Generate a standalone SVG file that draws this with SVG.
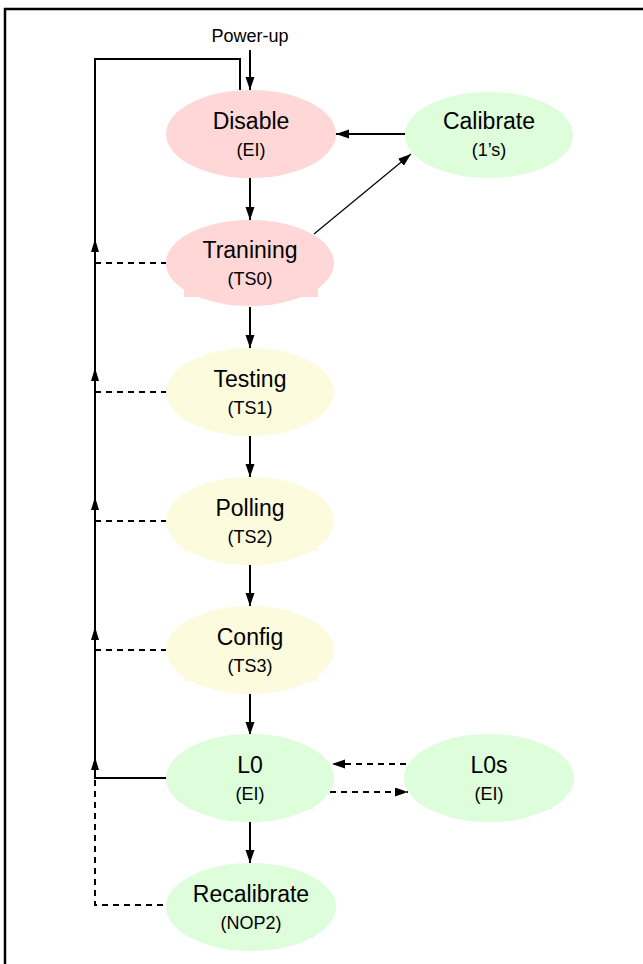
<svg xmlns="http://www.w3.org/2000/svg" width="643" height="964" viewBox="0 0 643 964">
<style>
.main{font-family:"Liberation Sans",Arial,sans-serif;font-size:23px;fill:#000;text-anchor:middle}
.sub{font-family:"Liberation Sans",Arial,sans-serif;font-size:18px;fill:#000;text-anchor:middle}
.pink{fill:#FFD7D7}
.yellow{fill:#FCFBDD}
.green{fill:#DDFDDB}
.ln{stroke:#000;stroke-width:2;fill:none}
.dash{stroke:#000;stroke-width:2;fill:none;stroke-dasharray:6,5}
.thin{stroke:#000;stroke-width:1.2;fill:none}
</style>
<defs>
<marker id="ah" markerUnits="userSpaceOnUse" markerWidth="14" markerHeight="10" refX="13" refY="4.5" orient="auto">
<path d="M0,0 L13,4.5 L0,9 z" fill="#000"/>
</marker>
<path id="up" d="M0,0 L-4,13 L4,13 z" fill="#000"/>
</defs>
<rect x="5" y="9" width="700" height="1000" fill="none" stroke="#000" stroke-width="2.5"/>

<g id="connectors">
<text x="250" y="42" font-family="Liberation Sans, Arial, sans-serif" font-size="18" text-anchor="middle">Power-up</text>
<line x1="250" y1="50" x2="250" y2="90" class="ln" marker-end="url(#ah)"/>
<polyline points="240,90 240,59 95,59 95,778 166,778" class="ln"/>
<use href="#up" x="95" y="239"/>
<use href="#up" x="95" y="368"/>
<use href="#up" x="95" y="497"/>
<use href="#up" x="95" y="627"/>
<use href="#up" x="95" y="757"/>
<line x1="95" y1="263" x2="166" y2="263" class="dash"/>
<line x1="95" y1="392" x2="166" y2="392" class="dash"/>
<line x1="95" y1="521" x2="166" y2="521" class="dash"/>
<line x1="95" y1="650" x2="166" y2="650" class="dash"/>
<polyline points="95,780 95,905 166,905" class="dash"/>
<line x1="406" y1="134" x2="336" y2="134" class="ln" marker-end="url(#ah)"/>
<line x1="314" y1="234" x2="411" y2="154" class="thin" marker-end="url(#ah)"/>
<line x1="250" y1="178" x2="250" y2="220" class="ln" marker-end="url(#ah)"/>
<line x1="250" y1="307" x2="250" y2="348" class="ln" marker-end="url(#ah)"/>
<line x1="250" y1="436" x2="250" y2="477" class="ln" marker-end="url(#ah)"/>
<line x1="250" y1="565" x2="250" y2="606" class="ln" marker-end="url(#ah)"/>
<line x1="250" y1="694" x2="250" y2="735" class="ln" marker-end="url(#ah)"/>
<line x1="250" y1="822" x2="250" y2="863" class="ln" marker-end="url(#ah)"/>
<line x1="406" y1="764" x2="332" y2="764" class="dash" marker-end="url(#ah)"/>
<line x1="330" y1="792" x2="408" y2="792" class="dash" marker-end="url(#ah)"/>
</g>

<g id="disable">
<ellipse cx="251" cy="134" rx="85" ry="44" class="pink"/>
<text x="251" y="129" class="main">Disable</text>
<text x="251" y="156" class="sub">(EI)</text>
</g>
<g id="calibrate">
<ellipse cx="489" cy="135" rx="84" ry="43" class="green"/>
<text x="489" y="129" class="main">Calibrate</text>
<text x="489" y="156" class="sub">(1’s)</text>
</g>
<g id="tranining">
<ellipse cx="250" cy="263" rx="84" ry="43" class="pink"/>
<rect x="184" y="283" width="134" height="14" class="pink"/>
<text x="250" y="258" class="main">Tranining</text>
<text x="250" y="285" class="sub">(TS0)</text>
</g>
<g id="testing">
<ellipse cx="250" cy="392" rx="84" ry="44" class="yellow"/>
<text x="250" y="387" class="main">Testing</text>
<text x="250" y="414" class="sub">(TS1)</text>
</g>
<g id="polling">
<ellipse cx="250" cy="521" rx="84" ry="44" class="yellow"/>
<rect x="184" y="541" width="134" height="10" class="yellow"/>
<text x="250" y="516" class="main">Polling</text>
<text x="250" y="543" class="sub">(TS2)</text>
</g>
<g id="config">
<ellipse cx="250" cy="650" rx="84" ry="44" class="yellow"/>
<rect x="184" y="670" width="134" height="11" class="yellow"/>
<text x="250" y="645" class="main">Config</text>
<text x="250" y="672" class="sub">(TS3)</text>
</g>
<g id="l0">
<ellipse cx="250" cy="778" rx="84" ry="44" class="green"/>
<rect x="188" y="798" width="125" height="11" class="green"/>
<text x="250" y="773" class="main">L0</text>
<text x="250" y="800" class="sub">(EI)</text>
</g>
<g id="l0s">
<ellipse cx="489" cy="778" rx="85" ry="44" class="green"/>
<rect x="427" y="798" width="125" height="11" class="green"/>
<text x="489" y="773" class="main">L0s</text>
<text x="489" y="800" class="sub">(EI)</text>
</g>
<g id="recalibrate">
<ellipse cx="251" cy="907" rx="85" ry="44" class="green"/>
<rect x="188" y="927" width="125" height="11" class="green"/>
<text x="251" y="902" class="main">Recalibrate</text>
<text x="251" y="929" class="sub">(NOP2)</text>
</g>
</svg>
